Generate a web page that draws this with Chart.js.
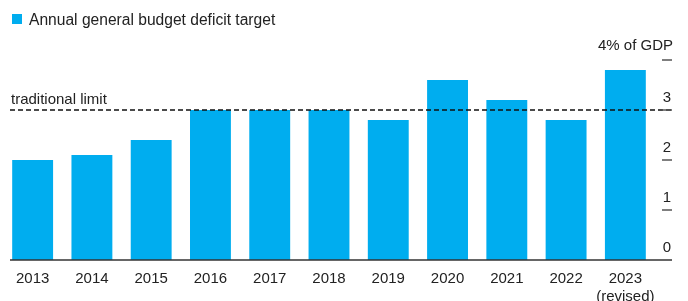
<!DOCTYPE html>
<html>
<head>
<meta charset="utf-8">
<script src="https://cdn.jsdelivr.net/npm/chart.js@4"></script>
<style>
  html, body { margin: 0; padding: 0; background: #fff; }
  #wrap { width: 688px; height: 301px; }
</style>
</head>
<body>
<div id="wrap"><canvas id="myChart" width="688" height="301"></canvas></div>
<script>
const years = ['2013', '2014', '2015', '2016', '2017', '2018', '2019', '2020', '2021', '2022', ['2023', '(revised)']];
const deficitTarget = [2.0, 2.1, 2.4, 3.0, 3.0, 3.0, 2.8, 3.6, 3.2, 2.8, 3.8];
const yTicks = [0, 1, 2, 3, 4];
const limitValue = 3;
const seriesName = 'Annual general budget deficit target';

const barColor = '#00adef';
const inkColor = '#222';
const fontFamily = '"Liberation Sans", Arial, sans-serif';

const overlay = {
  id: 'overlay',
  afterDraw: (chart) => {
    const ctx = chart.ctx;
    const y = chart.scales.y;
    const right = 672;
    ctx.save();

    // legend
    ctx.fillStyle = barColor;
    ctx.fillRect(12, 14, 10, 10);
    ctx.fillStyle = inkColor;
    ctx.font = `15.6px ${fontFamily}`;
    ctx.textBaseline = 'alphabetic';
    ctx.textAlign = 'left';
    ctx.fillText(seriesName, 29, 25);

    // traditional limit
    const ly = y.getPixelForValue(limitValue);
    ctx.font = `15px ${fontFamily}`;
    ctx.fillText('traditional limit', 11, 104);
    ctx.strokeStyle = '#111';
    ctx.lineWidth = 1.5;
    ctx.setLineDash([5, 3]);
    ctx.beginPath();
    ctx.moveTo(10, ly);
    ctx.lineTo(right, ly);
    ctx.stroke();
    ctx.setLineDash([]);

    // baseline
    const by = y.getPixelForValue(0);
    ctx.strokeStyle = '#333';
    ctx.lineWidth = 1.5;
    ctx.beginPath();
    ctx.moveTo(10, by);
    ctx.lineTo(right, by);
    ctx.stroke();

    // right axis ticks and labels
    ctx.textAlign = 'center';
    yTicks.forEach((v) => {
      const py = y.getPixelForValue(v);
      if (v > 0) {
        ctx.strokeStyle = '#555';
        ctx.lineWidth = 1.5;
        ctx.beginPath();
        ctx.moveTo(662, py);
        ctx.lineTo(right, py);
        ctx.stroke();
      }
      ctx.fillStyle = inkColor;
      if (v < 4) {
        ctx.fillText(String(v), 667, py - 8);
      }
    });
    ctx.textAlign = 'right';
    ctx.fillText('4% of GDP', right + 1, y.getPixelForValue(4) - 10);
    ctx.restore();
  },
};

const ctx = document.getElementById('myChart').getContext('2d');
const chart = new Chart(ctx, {
  type: 'bar',
  data: {
    labels: years,
    datasets: [
      {
        label: seriesName,
        data: deficitTarget,
        backgroundColor: barColor,
        borderWidth: 0,
        barPercentage: 0.69,
        categoryPercentage: 1,
      },
    ],
  },
  options: {
    responsive: false,
    animation: false,
    layout: { padding: { left: 3, right: 33, top: 60, bottom: 0 } },
    plugins: {
      legend: { display: false },
      tooltip: { enabled: false },
    },
    scales: {
      x: {
        grid: { display: false },
        border: { display: false },
        ticks: {
          color: inkColor,
          font: { family: fontFamily, size: 15, lineHeight: 1.25 },
          padding: 1,
          maxRotation: 0,
          autoSkip: false,
        },
        afterFit: (scale) => {
          scale.height = 41;
        },
      },
      y: {
        display: false,
        min: 0,
        max: 4,
      },
    },
  },
  plugins: [overlay],
});
</script>
</body>
</html>
